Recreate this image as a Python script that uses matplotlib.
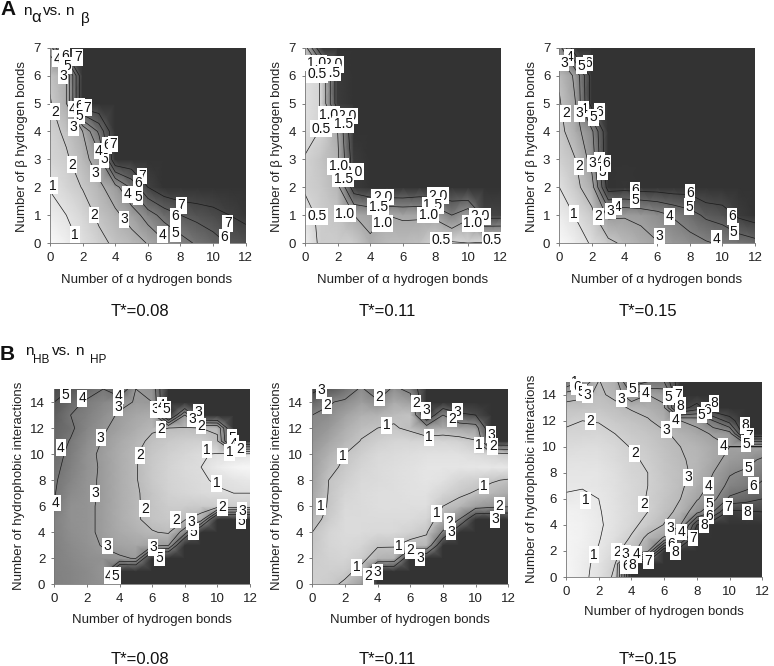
import numpy as np
import matplotlib
matplotlib.use('Agg')
import matplotlib.pyplot as plt
from matplotlib.colors import LinearSegmentedColormap, Normalize

plt.rcParams['font.family'] = ['Liberation Sans', 'DejaVu Sans']

W, H = 774, 666

# free energy, rows are y = 0.. and columns x = 0..12
xgrid = np.arange(13)
ygrid_a = np.arange(8)
ygrid_b = np.arange(16)

fe_a1 = [
    [.2, .6, 1.15, 1.7, 2.2, 2.6, 3.05, 3.85, 4.55, 5.15, 5.6, 6.1, 6.4],
    [.7, 1.0, 1.5, 2.2, 2.8, 3.4, 4.5, 5.4, 6.0, 6.3, 6.6, 7.0, 7.3],
    [1.05, 1.55, 2.05, 2.75, 3.6, 5.2, 7.0, 7.8, 8, 8, 8, 8, 8],
    [1.5, 1.85, 2.6, 3.6, 8, 8, 8, 8, 8, 8, 8, 8, 8],
    [1.65, 2.2, 3.0, 5.2, 8, 8, 8, 8, 8, 8, 8, 8, 8],
    [1.9, 3.0, 8, 8, 8, 8, 8, 8, 8, 8, 8, 8, 8],
    [2.2, 3.0, 8, 8, 8, 8, 8, 8, 8, 8, 8, 8, 8],
    [3.3, 8, 8, 8, 8, 8, 8, 8, 8, 8, 8, 8, 8],
]
fe_a2 = [
    [.2, .6, .6, .6, .95, .8, .8, .75, .5, .45, .5, .45, .42],
    [.35, .6, .7, 1.0, 1.1, 1.0, 1.05, 1.05, 1.1, 1.5, 1.1, 2.2, 2.2],
    [.55, .65, .85, 2.3, 2.5, 2.6, 2.6, 2.5, 2.5, 2.5, 2.8, 3, 3],
    [.52, .7, .9, 2.3, 3, 3, 3, 3, 3, 3, 3, 3, 3],
    [.4, .52, 1.0, 2.5, 3, 3, 3, 3, 3, 3, 3, 3, 3],
    [.35, .52, 2.3, 3, 3, 3, 3, 3, 3, 3, 3, 3, 3],
    [.35, .52, 2.3, 3, 3, 3, 3, 3, 3, 3, 3, 3, 3],
    [.8, 2.5, 3, 3, 3, 3, 3, 3, 3, 3, 3, 3, 3],
]
fe_a3 = [
    [.2, .6, 1.1, 1.75, 2.2, 2.6, 2.95, 3.3, 3.6, 3.9, 4.15, 4.4, 4.7],
    [.6, 1.05, 1.75, 3.2, 3.1, 3.25, 3.6, 4.1, 4.6, 5.2, 5.45, 6.2, 6.5],
    [1.0, 1.75, 2.6, 6.5, 6.4, 6.5, 6.5, 6.6, 6.5, 7, 7, 7, 7],
    [1.45, 2.0, 3.4, 7, 7, 7, 7, 7, 7, 7, 7, 7, 7],
    [1.7, 2.6, 3.8, 7, 7, 7, 7, 7, 7, 7, 7, 7, 7],
    [1.9, 3.0, 6.5, 7, 7, 7, 7, 7, 7, 7, 7, 7, 7],
    [2.15, 3.2, 6.5, 7, 7, 7, 7, 7, 7, 7, 7, 7, 7],
    [3.5, 7, 7, 7, 7, 7, 7, 7, 7, 7, 7, 7, 7],
]
fe_b1 = [
    [3.7, 3.6, 3.4, 3.2, 7, 7, 7, 7, 7, 7, 7, 7, 7],
    [3.7, 3.6, 3.4, 3.1, 7, 7, 7, 7, 7, 7, 7, 7, 7],
    [3.7, 3.5, 3.3, 3.2, 3.1, 2.95, 7, 7, 7, 7, 7, 7, 7],
    [3.7, 3.4, 3.2, 2.95, 2.7, 2.6, 2.75, 2.95, 7, 7, 7, 7, 7],
    [3.7, 3.3, 3.15, 2.85, 2.5, 2.3, 2.05, 1.9, 3.5, 7, 7, 7, 7],
    [3.7, 3.25, 3.15, 2.85, 2.4, 2.1, 1.75, 1.6, 1.9, 2.4, 7, 7, 7],
    [3.95, 3.25, 3.15, 2.85, 2.4, 2.1, 1.75, 1.5, 1.5, 1.55, 1.5, 1.5, 1.5],
    [4.05, 3.4, 3.15, 2.9, 2.4, 2.1, 1.7, 1.35, 1.2, 1.1, 1.05, 1.0, 1.0],
    [4.1, 3.6, 3.15, 2.9, 2.4, 2.05, 1.6, 1.3, 1.15, 1.05, .95, .8, .7],
    [4.2, 3.7, 3.2, 2.9, 2.4, 2.05, 1.6, 1.3, 1.1, 1.0, .6, .35, .25],
    [4.3, 3.8, 3.2, 2.85, 2.4, 2.05, 1.65, 1.4, 1.2, 1.05, .95, .95, .85],
    [4.4, 3.95, 3.35, 2.95, 2.5, 2.2, 1.85, 1.6, 1.45, 1.4, 1.9, 6.5, 6.5],
    [4.55, 4.15, 3.55, 3.1, 2.75, 2.4, 2.1, 2.0, 1.95, 2.0, 2.1, 7, 7],
    [4.75, 4.0, 3.7, 3.3, 2.9, 2.6, 2.4, 7, 3.0, 7, 7, 7, 7],
    [5.0, 4.4, 3.85, 3.5, 3.2, 2.95, 3.0, 7, 7, 7, 7, 7, 7],
    [5.3, 5.0, 4.5, 4.0, 5.0, 3.0, 3.2, 7, 7, 7, 7, 7, 7],
]
fe_b2 = [
    [.75, .85, 1.1, 1.6, 4, 4, 4, 4, 4, 4, 4, 4, 4],
    [.8, .8, .85, 1.15, 4, 4, 4, 4, 4, 4, 4, 4, 4],
    [.85, .75, .7, .85, 1.25, 1.3, 4, 4, 4, 4, 4, 4, 4],
    [.95, .7, .65, .7, .95, .95, 1.2, 1.2, 4, 4, 4, 4, 4],
    [1.0, .7, .6, .6, .65, .65, .75, .95, 2.1, 4, 4, 4, 4],
    [1.2, .85, .6, .6, .6, .6, .6, .7, 1.3, 2.0, 4, 4, 4],
    [1.35, .95, .65, .6, .55, .55, .55, .55, 1.0, 1.2, 1.6, 1.8, 1.9],
    [1.45, .98, .7, .6, .55, .55, .5, .5, .7, .9, 1.05, 1.2, 1.4],
    [1.55, 1.0, .8, .65, .6, .55, .5, .45, .5, .7, .8, .95, 1.05],
    [1.6, 1.15, .9, .7, .6, .55, .5, .45, .45, .45, .4, .4, .4],
    [1.65, 1.3, 1.0, .8, .65, .6, .55, .5, .5, .5, .6, .7, .9],
    [1.8, 1.5, 1.2, .98, .8, .7, .7, .7, .7, .75, .95, 4, 4],
    [1.9, 1.7, 1.35, 1.1, 1.0, .95, 1.1, 1.5, 1.35, 1.5, 1.6, 4, 4],
    [2.0, 1.9, 1.55, 1.3, 1.25, 1.1, 1.0, 4, 2.0, 2.8, 3, 4, 4],
    [2.6, 2.05, 1.9, 1.6, 1.9, 1.4, 1.6, 4, 4, 4, 4, 4, 4],
    [3.2, 2.8, 2.4, 1.9, 2.5, 1.85, 2.2, 4, 4, 4, 4, 4, 4],
]
fe_b3 = [
    [.35, .8, 1.3, 2.2, 9, 9, 9, 9, 9, 9, 9, 9, 9],
    [.4, .8, 1.2, 2.0, 9, 9, 9, 9, 9, 9, 9, 9, 9],
    [.45, .7, 1.05, 1.7, 2.7, 3.8, 9, 9, 9, 9, 9, 9, 9],
    [.45, .65, .95, 1.4, 2.1, 3.3, 4.1, 5.6, 9, 9, 9, 9, 9],
    [.5, .65, .9, 1.25, 1.75, 2.35, 3.05, 4.0, 8.0, 9, 9, 9, 9],
    [.55, .7, .95, 1.25, 1.65, 2.0, 2.65, 3.3, 4.7, 6.0, 8.3, 8.1, 8.0],
    [.95, .85, 1.0, 1.3, 1.7, 2.05, 2.5, 3.0, 3.9, 4.7, 6.2, 6.6, 7.0],
    [1.05, 1.05, 1.1, 1.35, 1.7, 2.0, 2.4, 2.85, 3.45, 4.3, 5.3, 5.7, 6.2],
    [1.1, 1.1, 1.15, 1.4, 1.8, 2.0, 2.45, 2.8, 3.2, 4.0, 4.9, 5.2, 5.7],
    [1.3, 1.25, 1.3, 1.55, 1.9, 2.1, 2.55, 2.95, 3.1, 3.7, 4.3, 4.6, 5.2],
    [1.55, 1.5, 1.5, 1.7, 2.05, 2.3, 2.7, 3.0, 3.2, 3.7, 4.0, 4.0, 4.0],
    [1.85, 1.85, 1.75, 2.0, 2.3, 2.5, 2.85, 3.3, 3.7, 4.1, 4.5, 9, 9],
    [2.15, 2.0, 2.05, 2.35, 2.6, 2.9, 3.4, 4.0, 4.3, 6.0, 7.5, 9, 9],
    [2.6, 2.6, 2.5, 2.75, 3.1, 3.35, 3.9, 8.5, 7.5, 9, 9, 9, 9],
    [3.5, 3.2, 2.85, 3.2, 5.0, 4.0, 4.2, 9, 9, 9, 9, 9, 9],
    [6.0, 5.0, 2.95, 3.5, 6.5, 6.0, 6.0, 9, 9, 9, 9, 9, 9],
]

levels_a1 = [1, 2, 3, 4, 5, 6, 7]
levels_a2 = [.5, 1.0, 1.5, 2.0]
levels_a3 = [1, 2, 3, 4, 5, 6]
levels_b1 = [1, 2, 3, 4, 5]
levels_b2 = [1, 2, 3]
levels_b3 = [1, 2, 3, 4, 5, 6, 7, 8]

# contour labels as they sit on the original
labels_a1 = [(.45, 6.6, '4'), (.9, 6.7, '6'), (1.05, 6.35, '5'), (.8, 6.0, '3'), (1.7, 6.65, '7'),
             (.3, 4.7, '2'), (1.4, 4.8, '4'), (1.8, 4.9, '6'), (2.25, 4.85, '7'), (1.8, 4.55, '5'),
             (1.45, 4.15, '3'), (3.5, 3.5, '6'), (3.85, 3.55, '7'), (3.3, 3, '5'), (3, 3.3, '4'),
             (1.35, 2.8, '2'), (2.8, 2.5, '3'), (.15, 2.05, '1'), (5.65, 2.4, '7'), (5.4, 2.15, '6'),
             (4.75, 1.75, '4'), (5.4, 1.65, '5'), (8.05, 1.35, '7'), (7.7, .95, '6'), (2.7, 1, '2'),
             (4.55, .85, '3'), (7.7, .35, '5'), (6.9, .3, '4'), (1.55, .3, '1'), (10.9, .7, '7'),
             (10.7, .2, '6')]
labels_a2 = [(1.7, 6.4, '2.0'), (.7, 6.45, '1.0'), (1.55, 6.1, '1.5'), (.75, 6.05, '0.5'),
             (2.55, 4.55, '2.0'), (1.45, 4.6, '1.0'), (2.35, 4.25, '1.5'), (1.0, 4.1, '0.5'),
             (2.95, 2.55, '2.0'), (2.05, 2.75, '1.0'), (2.35, 2.3, '1.5'), (4.75, 1.65, '2.0'),
             (4.5, 1.3, '1.5'), (2.45, 1.05, '1.0'), (4.75, .7, '1.0'), (.75, .95, '0.5'),
             (8.15, 1.7, '2.0'), (7.85, 1.35, '1.5'), (7.55, 1, '1.0'), (8.35, .1, '0.5'),
             (10.75, .95, '2.0'), (10.3, .7, '1.0'), (11.5, .1, '0.5')]
labels_a3 = [(.6, 6.65, '4'), (.3, 6.45, '3'), (1.75, 6.45, '6'), (1.35, 6.35, '5'), (.4, 4.65, '2'),
             (1.5, 4.8, '4'), (1.25, 4.65, '3'), (2.45, 4.7, '6'), (2.1, 4.5, '5'), (1.2, 2.75, '2'),
             (2.45, 2.95, '4'), (2.05, 2.85, '3'), (2.65, 2.55, '5'), (2.85, 2.85, '6'), (4.65, 1.9, '6'),
             (4.65, 1.55, '5'), (3.55, 1.3, '4'), (3.15, 1.15, '3'), (2.4, .95, '2'), (.9, 1.05, '1'),
             (8, 1.8, '6'), (7.95, 1.3, '5'), (6.75, .95, '4'), (6.15, .25, '3'), (9.65, .15, '4'),
             (10.6, .95, '6'), (10.7, .4, '5')]
labels_b1 = [(.7, 14.55, '5'), (1.7, 14.3, '4'), (3.95, 14.5, '4'), (3.9, 13.6, '3'), (6.2, 13.45, '3'),
             (6.6, 13.75, '4'), (6.85, 13.45, '5'), (8.85, 13.2, '3'), (8.45, 12.7, '3'), (9, 12.15, '2'),
             (6.55, 11.9, '2'), (2.85, 11.25, '3'), (.4, 10.5, '4'), (5.25, 9.9, '2'), (9.35, 10.35, '1'),
             (10.9, 11.25, '5'), (11, 10.8, '4'), (10.75, 10.15, '1'), (11.4, 10.4, '2'), (9.95, 7.75, '1'),
             (2.5, 7, '3'), (.1, 6.25, '4'), (5.55, 5.8, '2'), (7.45, 4.95, '2'), (10.3, 5.9, '2'),
             (8.55, 4.05, '5'), (8.4, 4.8, '3'), (11.45, 4.9, '5'), (11.5, 5.65, '3'), (3.25, 2.95, '3'),
             (6.45, 2.05, '5'), (6.05, 2.85, '3'), (3.35, .65, '4'), (3.75, .65, '5')]
labels_b2 = [(.55, 14.9, '3'), (.9, 13.75, '2'), (4.1, 14.35, '2'), (6.35, 13.9, '2'), (6.95, 13.35, '3'),
             (8.9, 13.25, '3'), (8.55, 12.7, '2'), (4.55, 12.2, '1'), (7.15, 11.3, '1'), (1.85, 9.85, '1'),
             (10.2, 10.7, '1'), (10.95, 11.5, '3'), (11.05, 10.6, '2'), (10.5, 7.55, '1'), (.55, 6, '1'),
             (11.45, 6.05, '2'), (11.2, 5, '3'), (7.6, 5.45, '1'), (8.4, 4.8, '2'), (8.5, 4.05, '3'),
             (5.3, 2.95, '1'), (6, 2.6, '2'), (6.6, 2.05, '3'), (2.7, 1.3, '1'), (4, .95, '3'),
             (3.45, .6, '2')]
labels_b3 = [(.55, 15, '1'), (.65, 14.6, '6'), (.95, 14.2, '5'), (1.3, 14, '3'), (3.4, 13.7, '3'),
             (4.05, 14.45, '5'), (4.85, 14.1, '4'), (6.85, 14, '7'), (6.25, 13.85, '5'), (7, 13.15, '8'),
             (6.7, 12.05, '4'), (6.15, 11.3, '3'), (1.5, 11.95, '2'), (9.05, 13.35, '8'), (8.6, 12.8, '6'),
             (8.3, 12.45, '5'), (10.95, 11.65, '8'), (11.2, 10.8, '7'), (11, 10.25, '5'), (9.6, 10.05, '4'),
             (4.2, 9.5, '2'), (11.15, 8.4, '5'), (7.45, 7.65, '3'), (8.7, 7, '4'), (11.45, 7, '6'),
             (1.2, 5.9, '1'), (4.75, 5.6, '2'), (9.9, 5.4, '7'), (11.1, 5, '8'), (8.75, 5.6, '5'),
             (8.75, 4.7, '6'), (8.45, 4, '8'), (6.35, 3.8, '3'), (7.05, 3.45, '4'), (7.75, 3, '7'),
             (6.45, 2.55, '6'), (6.7, 1.95, '8'), (3.1, 1.95, '2'), (3.65, 1.8, '3'), (4.3, 1.75, '4'),
             (1.7, 1.7, '1'), (5.05, 1.25, '7'), (3.65, .85, '6'), (4.05, .9, '8')]

gray = LinearSegmentedColormap.from_list('fe', ['#ffffff', '#333333'])
fig = plt.figure(figsize=(W / 100, H / 100), dpi=100)


def panel(fe, ygrid, levels, labels, vmax, box, xlabel, ylabel, xlab_pos, ylab_pos):
    # box is left, right, top, bottom of the plot area in image pixels
    l, r, t, b = box
    ax = fig.add_axes([l / W, 1 - b / H, (r - l) / W, (b - t) / H])
    ax.pcolormesh(xgrid, ygrid, np.array(fe), shading='gouraud', cmap=gray,
                  norm=Normalize(0, vmax), rasterized=True)
    ax.contour(xgrid, ygrid, np.array(fe), levels=levels, colors='#1a1a1a', linewidths=0.5)
    for x, y, s in labels:
        ax.text(x, y, s, fontsize=10, ha='center', va='center', color='#111111', clip_on=False,
                bbox=dict(boxstyle='square,pad=0.1', fc='white', ec='none'))
    ax.set_xlim(0, 12)
    ax.set_ylim(ygrid[0], ygrid[-1])
    ax.set_xticks(np.arange(0, 13, 2))
    ax.set_yticks(np.arange(0, ygrid[-1] + 1, 2 if ygrid[-1] > 7 else 1))
    ax.tick_params(labelsize=9.5, length=2.5, width=0.6, color='#666666', labelcolor='#222222', pad=4)
    for side in ['top', 'right']:
        ax.spines[side].set_visible(False)
    for side in ['left', 'bottom']:
        ax.spines[side].set_linewidth(0.6)
        ax.spines[side].set_color('#777777')
    fig.text(xlab_pos[0] / W, 1 - xlab_pos[1] / H, xlabel, fontsize=9.5, ha='center', va='center', color='#222222')
    fig.text(ylab_pos[0] / W, 1 - ylab_pos[1] / H, ylabel, fontsize=9.5, ha='center', va='center',
             rotation=90, color='#222222')


xa = 'Number of α hydrogen bonds'
ya = 'Number of β hydrogen bonds'
xb = 'Number of hydrogen bonds'
yb = 'Number of hydrophobic interactions'

panel(fe_a1, ygrid_a, levels_a1, labels_a1, 7.5, (50, 245.7, 47.7, 243), xa, ya, (147, 280), (22, 147))
panel(fe_a2, ygrid_a, levels_a2, labels_a2, 2.4, (305, 500.7, 47.7, 243), xa, ya, (403, 280), (277, 147))
panel(fe_a3, ygrid_a, levels_a3, labels_a3, 6.5, (559.3, 755, 47.7, 243), xa, ya, (657, 280), (532, 147))
panel(fe_b1, ygrid_b, levels_b1, labels_b1, 6, (54.3, 250, 389, 584.3), xb, yb, (152, 620), (19, 486))
panel(fe_b2, ygrid_b, levels_b2, labels_b2, 3.4, (312.3, 508.3, 389, 584.3), xb, yb, (410, 620), (277, 486))
panel(fe_b3, ygrid_b, levels_b3, labels_b3, 8.8, (566, 762.3, 381.7, 577), xb, yb, (664, 612), (532, 479))


def label(x, y, s, size, **kw):
    fig.text(x / W, 1 - y / H, s, fontsize=size, color='#111111', **kw)


label(0, 15, 'A', 15, fontweight='bold')
label(23, 15, 'n', 11)
label(31, 22, 'α', 12)
label(43, 15, 'vs.', 11)
label(65, 15, 'n', 11)
label(81, 23, 'β', 11)
label(0, 360, 'B', 15, fontweight='bold')
label(25, 355, 'n', 11)
label(33, 363, 'HB', 8.5)
label(52, 355, 'vs.', 11)
label(75, 355, 'n', 11)
label(90, 363, 'HP', 8.5)

for x, s in zip([140, 387, 648], ['T*=0.08', 'T*=0.11', 'T*=0.15']):
    label(x, 312, s, 12, ha='center', va='center')
    label(x, 660, s, 12, ha='center', va='center')

fig.savefig('out.png', dpi=100)
